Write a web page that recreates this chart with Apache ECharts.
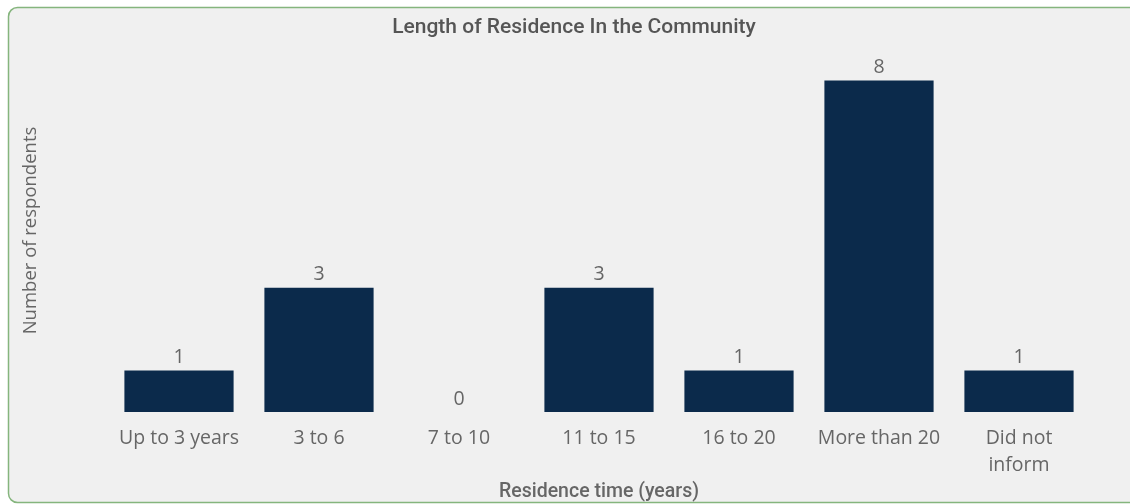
<!DOCTYPE html>
<html>
<head>
<meta charset="utf-8">
<script src="https://cdn.jsdelivr.net/npm/echarts@6/dist/echarts.min.js"></script>
<style>
  html, body { margin: 0; padding: 0; background: #ffffff; }
  #chart { width: 1130px; height: 504px; }
</style>
</head>
<body>
<div id="chart"></div>
<script>
// Survey answers: how long respondents have lived in the community
const categories = ['Up to 3 years', '3 to 6', '7 to 10', '11 to 15', '16 to 20', 'More than 20', 'Did not\ninform'];
const respondents = [1, 3, 0, 3, 1, 8, 1];

const titleText = 'Length of Residence In the Community';
const xAxisTitle = 'Residence time (years)';
const yAxisTitle = 'Number of respondents';

const labelColor = '#666666';
const barColor = '#0b2a4b';

const chart = echarts.init(document.getElementById('chart'), null, { renderer: 'canvas' });

chart.setOption({
  backgroundColor: '#ffffff',
  animation: false,
  graphic: [
    {
      // card panel behind the chart
      type: 'rect',
      z: -10,
      shape: { x: 8.5, y: 7.5, width: 1140, height: 495, r: 9 },
      style: { fill: '#f0f0f0', stroke: '#85b57d', lineWidth: 1.5 }
    }
  ],
  title: {
    text: titleText,
    left: 569,
    top: 12,
    textAlign: 'center',
    textStyle: {
      fontFamily: 'Roboto',
      fontWeight: 500,
      fontSize: 21,
      color: '#555555'
    }
  },
  grid: {
    left: 109,
    right: 41,
    top: 49,
    bottom: 92,
    outerBoundsMode: 'none',
    containLabel: false
  },
  xAxis: {
    type: 'category',
    data: categories,
    name: xAxisTitle,
    nameLocation: 'middle',
    nameGap: 70,
    nameMoveOverlap: false,
    nameTextStyle: {
      fontFamily: 'Roboto',
      fontWeight: 500,
      fontSize: 19.5,
      color: '#666666'
    },
    axisLine: { show: false },
    axisTick: { show: false },
    axisLabel: {
      margin: 13,
      fontFamily: 'Open Sans',
      fontSize: 19.5,
      lineHeight: 27,
      color: labelColor,
      interval: 0
    }
  },
  yAxis: {
    type: 'value',
    min: 0,
    max: 8.76,
    name: yAxisTitle,
    nameLocation: 'middle',
    nameGap: 69,
    nameRotate: 90,
    nameTextStyle: {
      fontFamily: 'Open Sans',
      fontSize: 18.5,
      color: '#666666'
    },
    axisLine: { show: false },
    axisTick: { show: false },
    axisLabel: { show: false },
    splitLine: { show: false }
  },
  series: [
    {
      type: 'bar',
      data: respondents,
      barWidth: '78%',
      itemStyle: { color: barColor },
      label: {
        show: true,
        position: 'top',
        distance: 3,
        fontFamily: 'Open Sans',
        fontSize: 19.5,
        color: labelColor
      }
    }
  ]
});
</script>
</body>
</html>
